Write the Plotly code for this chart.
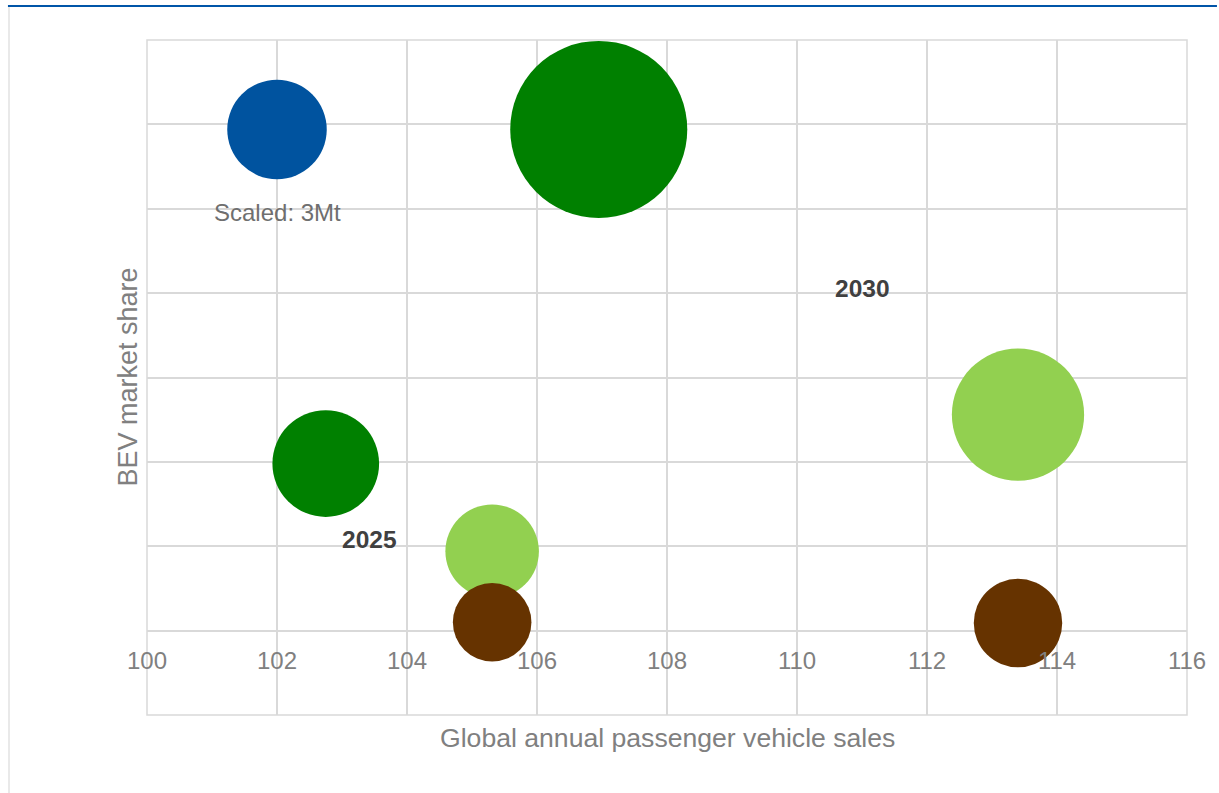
import plotly.graph_objects as go

# ---- data ----
sales_x = [102.0, 106.95, 113.4, 102.75, 105.31, 105.31, 113.4]      # Global annual passenger vehicle sales
bev_share = [0.594, 0.594, 0.256, 0.198, 0.094, 0.010, 0.009]      # BEV market share
demand_mt = [3.0, 9.5, 5.3, 3.45, 2.65, 1.87, 2.37]                 # bubble size (Mt)
colors = ["#00539F", "#008000", "#92D050", "#008000", "#92D050", "#663300", "#663300"]
x_ticks = [100, 102, 104, 106, 108, 110, 112, 114, 116]

labels = [
    dict(text="Scaled: 3Mt", x=102.0, y=0.495, bold=False, color="#6f6f6f"),
    dict(text="2030", x=111.0, y=0.405, bold=True, color="#404040"),
    dict(text="2025", x=103.42, y=0.108, bold=True, color="#404040"),
]

REF_MT = 3.0
REF_DIAM = 99.5
sizeref = 2.0 * REF_MT / REF_DIAM ** 2

FONT = "Liberation Sans, Arial, sans-serif"
GRID = "#d9d9d9"

fig = go.Figure()
for xv, yv, sv, c in zip(sales_x, bev_share, demand_mt, colors):
    fig.add_trace(go.Scatter(
        x=[xv], y=[yv], mode="markers",
        marker=dict(size=[sv], sizemode="area", sizeref=sizeref, color=c,
                    opacity=1, line=dict(width=0)),
        hoverinfo="skip", showlegend=False,
    ))

annotations = []
for lb in labels:
    annotations.append(dict(
        x=lb["x"], y=lb["y"], xref="x", yref="y", showarrow=False,
        text=("<b>%s</b>" % lb["text"]) if lb["bold"] else lb["text"],
        font=dict(family=FONT, size=24.5 if lb["bold"] else 24, color=lb["color"]),
    ))
annotations.append(dict(
    x=0.5, y=-0.034, xref="paper", yref="paper", showarrow=False,
    text="Global annual passenger vehicle sales", yanchor="middle",
    font=dict(family=FONT, size=26.6, color="#808080"),
))
annotations.append(dict(
    x=-0.0192, y=0.5, xref="paper", yref="paper", showarrow=False,
    text="BEV market share", textangle=-90, xanchor="center", yanchor="middle",
    font=dict(family=FONT, size=27, color="#808080"),
))

shapes = [
    dict(type="rect", xref="paper", yref="paper", x0=0, x1=1, y0=0, y1=1,
         line=dict(color=GRID, width=1.5), layer="below"),
    dict(type="line", xref="paper", yref="paper", x0=-0.1337, x1=1.0288,
         y0=1.0504, y1=1.0504, line=dict(color="#0055A8", width=2)),
    dict(type="line", xref="paper", yref="paper", x0=-0.1327, x1=-0.1327,
         y0=1.049, y1=-0.12, line=dict(color="#e2e2e2", width=1.5)),
]

fig.update_layout(
    width=1219, height=793,
    margin=dict(l=147, r=32, t=40, b=78),
    paper_bgcolor="white", plot_bgcolor="white",
    font=dict(family=FONT),
    xaxis=dict(range=[100, 116], tickvals=x_ticks, ticktext=[str(t) for t in x_ticks],
               showgrid=True, gridcolor=GRID, gridwidth=1.5,
               zeroline=False, showline=False, ticks="",
               anchor="free", position=(715 - 631) / 675, ticklabelstandoff=13,
               tickfont=dict(family=FONT, size=24, color="#808080")),
    yaxis=dict(range=[-0.1, 0.7], dtick=0.1, tick0=0,
               showgrid=True, gridcolor=GRID, gridwidth=1.5,
               zeroline=True, zerolinecolor=GRID, zerolinewidth=1.5,
               showline=False, showticklabels=False, ticks=""),
    annotations=annotations, shapes=shapes,
    hovermode=False,
)

fig.write_html("out.html")
